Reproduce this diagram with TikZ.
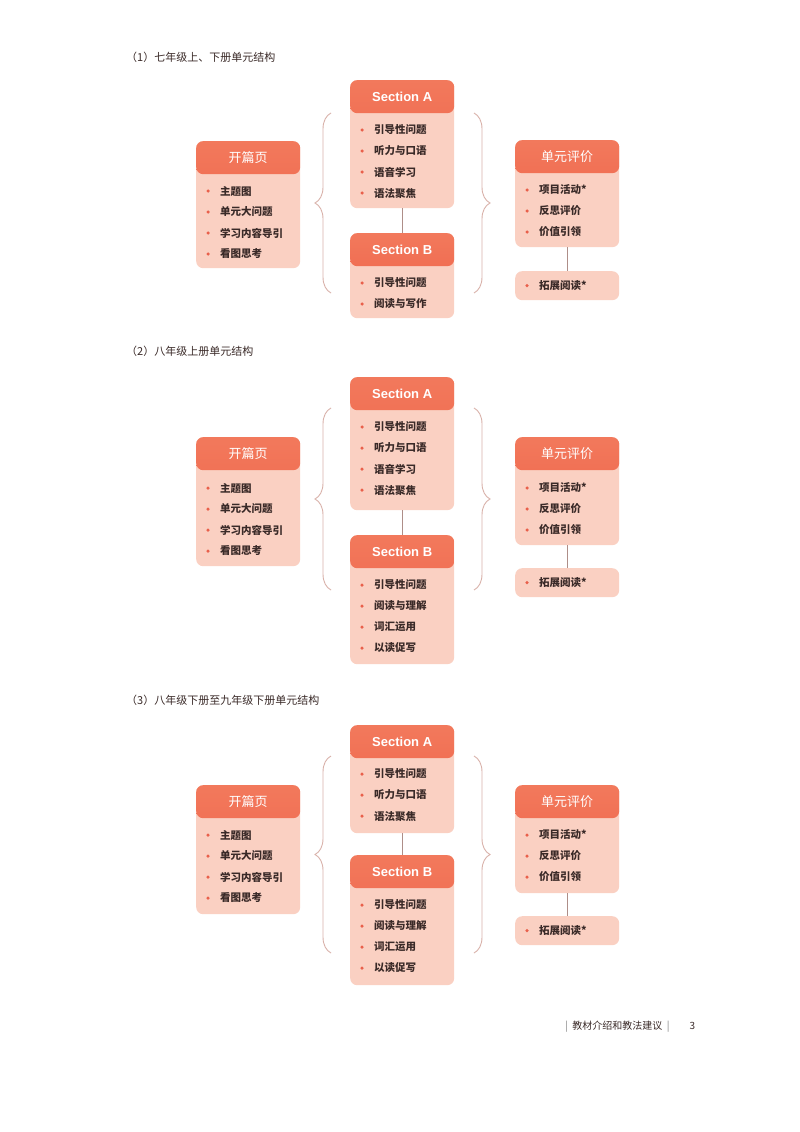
\documentclass[tikz,border=0pt]{standalone}
\usepackage{fontspec}
\setmainfont{Noto Sans CJK SC}
\newfontfamily\hfont{Liberation Sans}
\usetikzlibrary{decorations.pathreplacing}
\definecolor{hdtop}{HTML}{F2795C}
\definecolor{hdbot}{HTML}{EF5E45}
\definecolor{bodyc}{HTML}{FAD0C2}
\definecolor{bulc}{HTML}{E9604B}
\definecolor{brc}{HTML}{D9B2AA}
\definecolor{txt}{HTML}{3A2A28}
\tikzset{
  ubox/.style={fill=bodyc, rounded corners=7pt, inner sep=0pt, anchor=north west,
    path picture={\fill[top color=hdtop,bottom color=hdbot] (path picture bounding box.north west) rectangle ([yshift=-33pt]path picture bounding box.north east);}},
  htext/.style={text=white, font=\fontsize{13}{13}\selectfont},
  itm/.style={anchor=west, text=txt, font=\fontsize{10.5}{11}\selectfont\bfseries, inner sep=0pt},
  bul/.style={circle, fill=bulc, minimum size=3.5pt, inner sep=0pt},
  brace/.style={draw=brc, line width=0.9pt, decorate, decoration={brace, amplitude=16pt}},
  link/.style={draw=brc!80!black, line width=0.8pt},
  ttl/.style={anchor=west, text=txt, font=\fontsize{11}{11}\selectfont, inner sep=0pt}
}
\newcommand\ubox[6]{%
  \node[ubox, minimum width=#4pt, minimum height=#5pt] (#1) at (#2,#3) {};
  \node[htext] (#1h) at ([yshift=-16.5pt]#1.north) {#6};
}
\newcommand\uitems[3]{%
  \foreach \t [count=\i] in {#3} {
    \pgfmathsetmacro\dy{#2+21*(\i-1)}
    \node[bul] (#1b\i) at ([xshift=12pt,yshift=-\dy pt]#1.north west) {};
    \node[itm] (#1t\i) at ([xshift=24pt,yshift=-\dy pt]#1.north west) {\t};
  }
}
\begin{document}
\begin{tikzpicture}[x=1pt,y=-1pt]
\useasboundingbox[fill=white] (0,0) rectangle (800,1132);
% ---------- diagram 1
\node[ttl] (t1) at (126,57) {（1）七年级上、下册单元结构};
\ubox{a1}{350}{80}{104}{128}{\hfont\bfseries Section A}
\uitems{a1}{50}{引导性问题,听力与口语,语音学习,语法聚焦}
\ubox{b1}{350}{233}{104}{85}{\hfont\bfseries Section B}
\uitems{b1}{50}{引导性问题,阅读与写作}
\ubox{l1}{196}{141}{104}{127}{开篇页}
\uitems{l1}{50}{主题图,单元大问题,学习内容导引,看图思考}
\ubox{r1}{515}{140}{104}{107}{单元评价}
\uitems{r1}{50}{项目活动*,反思评价,价值引领}
\node[ubox, minimum width=104pt, minimum height=29pt, path picture={}] (e1) at (515,271) {};
\node[bul] (e1b) at ([xshift=12pt]e1.west) {};
\node[itm] (e1t) at ([xshift=24pt]e1.west) {拓展阅读*};
\draw[link] (a1.south) -- (b1.north);
\draw[link] (r1.south) -- (e1.north);
\coordinate (lb1s) at (331,293); \coordinate (lb1n) at (331,113);
\coordinate (rb1n) at (474,113); \coordinate (rb1s) at (474,293);
\draw[brace] (lb1s) -- (lb1n);
\draw[brace] (rb1n) -- (rb1s);
% ---------- diagram 2
\node[ttl] (t2) at (126,351) {（2）八年级上册单元结构};
\ubox{a2}{350}{377}{104}{133}{\hfont\bfseries Section A}
\uitems{a2}{50}{引导性问题,听力与口语,语音学习,语法聚焦}
\ubox{b2}{350}{535}{104}{129}{\hfont\bfseries Section B}
\uitems{b2}{50}{引导性问题,阅读与理解,词汇运用,以读促写}
\ubox{l2}{196}{437}{104}{129}{开篇页}
\uitems{l2}{51}{主题图,单元大问题,学习内容导引,看图思考}
\ubox{r2}{515}{437}{104}{108}{单元评价}
\uitems{r2}{51}{项目活动*,反思评价,价值引领}
\node[ubox, minimum width=104pt, minimum height=29pt, path picture={}] (e2) at (515,568) {};
\node[bul] (e2b) at ([xshift=12pt]e2.west) {};
\node[itm] (e2t) at ([xshift=24pt]e2.west) {拓展阅读*};
\draw[link] (a2.south) -- (b2.north);
\draw[link] (r2.south) -- (e2.north);
\coordinate (lb2s) at (331,590); \coordinate (lb2n) at (331,408);
\coordinate (rb2n) at (474,408); \coordinate (rb2s) at (474,590);
\draw[brace] (lb2s) -- (lb2n);
\draw[brace] (rb2n) -- (rb2s);
% ---------- diagram 3
\node[ttl] (t3) at (126,700) {（3）八年级下册至九年级下册单元结构};
\ubox{a3}{350}{725}{104}{108}{\hfont\bfseries Section A}
\uitems{a3}{49}{引导性问题,听力与口语,语法聚焦}
\ubox{b3}{350}{855}{104}{130}{\hfont\bfseries Section B}
\uitems{b3}{50}{引导性问题,阅读与理解,词汇运用,以读促写}
\ubox{l3}{196}{785}{104}{129}{开篇页}
\uitems{l3}{50}{主题图,单元大问题,学习内容导引,看图思考}
\ubox{r3}{515}{785}{104}{108}{单元评价}
\uitems{r3}{50}{项目活动*,反思评价,价值引领}
\node[ubox, minimum width=104pt, minimum height=29pt, path picture={}] (e3) at (515,916) {};
\node[bul] (e3b) at ([xshift=12pt]e3.west) {};
\node[itm] (e3t) at ([xshift=24pt]e3.west) {拓展阅读*};
\draw[link] (a3.south) -- (b3.north);
\draw[link] (r3.south) -- (e3.north);
\coordinate (lb3s) at (331,953); \coordinate (lb3n) at (331,756);
\coordinate (rb3n) at (474,756); \coordinate (rb3s) at (474,953);
\draw[brace] (lb3s) -- (lb3n);
\draw[brace] (rb3n) -- (rb3s);
% ---------- footer
\node[ttl, font=\fontsize{10}{10}\selectfont] (ft) at (565,1027) {{\color{gray}|}\ \ 教材介绍和教法建议\ \ {\color{gray}|}\qquad 3};
\end{tikzpicture}
\end{document}
